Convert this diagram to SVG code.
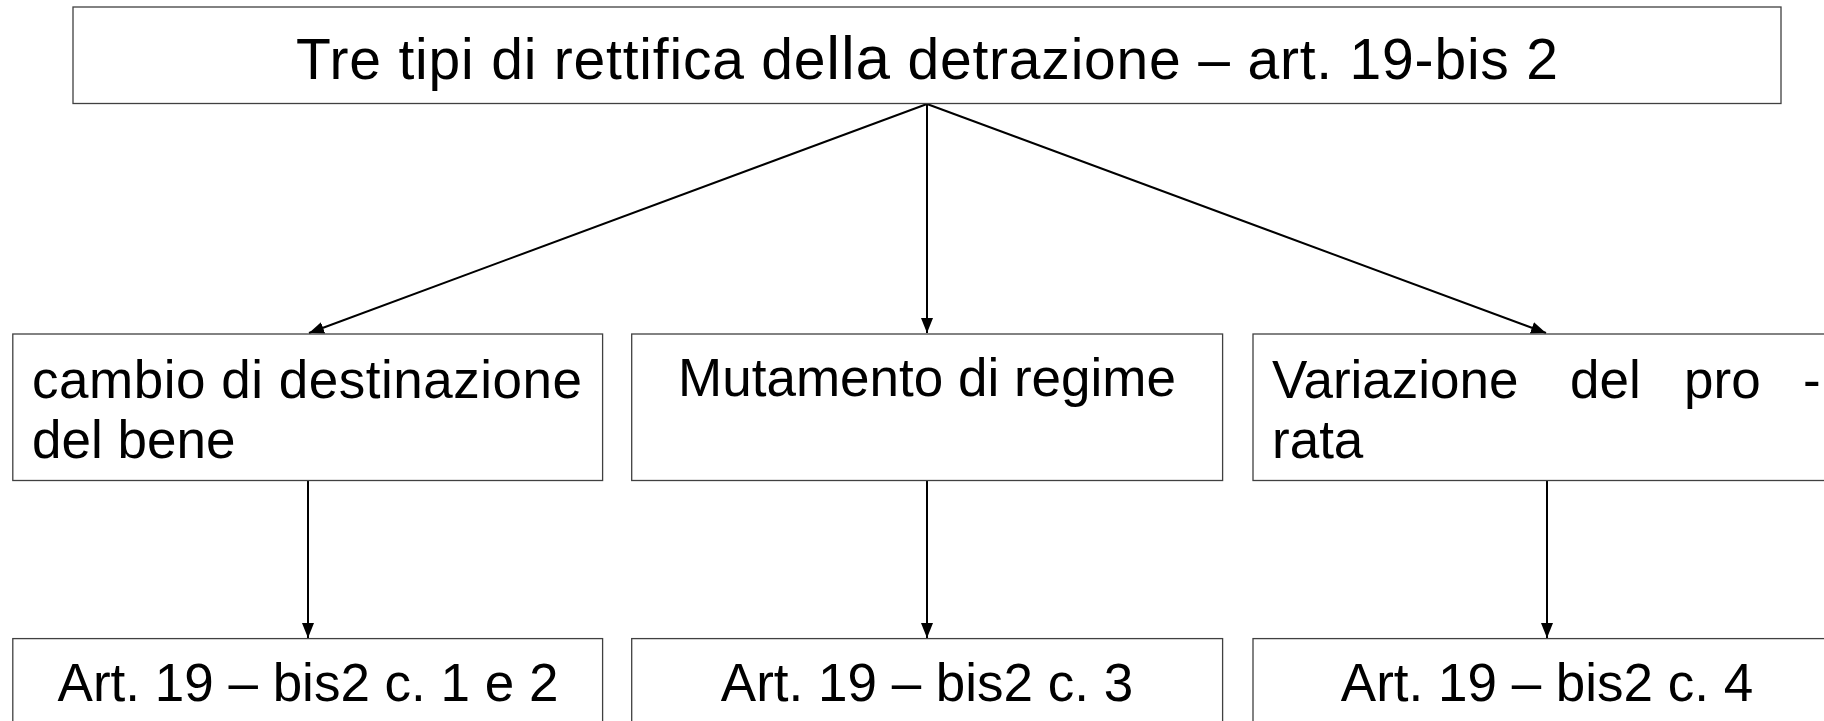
<svg xmlns="http://www.w3.org/2000/svg" width="1824" height="721" viewBox="0 0 1824 721">
<style>
.box{fill:#ffffff;stroke:#404040;stroke-width:1.3}
.t{font-family:"Liberation Sans",Arial,sans-serif;fill:#000000}
.title{font-size:57px}
.lbl{font-size:53px}
.conn{stroke:#000000;stroke-width:2;fill:none;marker-end:url(#arr)}
</style>
<defs>
<marker id="arr" markerUnits="userSpaceOnUse" viewBox="0 0 15 12" refX="15" refY="6" markerWidth="15" markerHeight="12" orient="auto">
<path d="M0,0 L15,6 L0,12 z" fill="#000000"/>
</marker>
</defs>
<rect width="1824" height="721" fill="#ffffff"/>
<g id="connectors">
<line class="conn" x1="927" y1="104" x2="309" y2="333"/>
<line class="conn" x1="927" y1="104" x2="927" y2="333"/>
<line class="conn" x1="927" y1="104" x2="1546" y2="333"/>
<line class="conn" x1="308" y1="481" x2="308" y2="638"/>
<line class="conn" x1="927" y1="481" x2="927" y2="638"/>
<line class="conn" x1="1547" y1="481" x2="1547" y2="638"/>
</g>
<g id="title">
<rect class="box" x="73" y="7" width="1708" height="96.5"/>
<text class="t title" x="296" y="79" textLength="1262" lengthAdjust="spacing">Tre tipi di rettifica de<tspan font-size="62px">lla</tspan> detrazione – art. 19-bis 2</text>
</g>
<g id="cambio">
<rect class="box" x="12.8" y="334" width="589.8" height="146.5"/>
<text class="t lbl" x="32" y="398" textLength="550" lengthAdjust="spacing">cambio di destinazione</text>
<text class="t lbl" x="32" y="458">del bene</text>
</g>
<g id="mutamento">
<rect class="box" x="631.7" y="334" width="590.9" height="146.5"/>
<text class="t lbl" x="927" y="396" text-anchor="middle">Mutamento di regime</text>
</g>
<g id="variazione">
<rect class="box" x="1253" y="334" width="590" height="146.5"/>
<text class="t lbl" y="398"><tspan x="1272">Variazione</tspan><tspan x="1570">del</tspan><tspan x="1684">pro</tspan><tspan x="1803">-</tspan></text>
<text class="t lbl" x="1272" y="458">rata</text>
</g>
<g id="art1">
<rect class="box" x="12.8" y="638.6" width="589.8" height="120"/>
<text class="t lbl" x="308" y="701" text-anchor="middle">Art. 19 – bis2 c. 1 e 2</text>
</g>
<g id="art3">
<rect class="box" x="631.7" y="638.6" width="590.9" height="120"/>
<text class="t lbl" x="927" y="701" text-anchor="middle">Art. 19 – bis2 c. 3</text>
</g>
<g id="art4">
<rect class="box" x="1253" y="638.6" width="590" height="120"/>
<text class="t lbl" x="1547" y="701" text-anchor="middle">Art. 19 – bis2 c. 4</text>
</g>
</svg>
